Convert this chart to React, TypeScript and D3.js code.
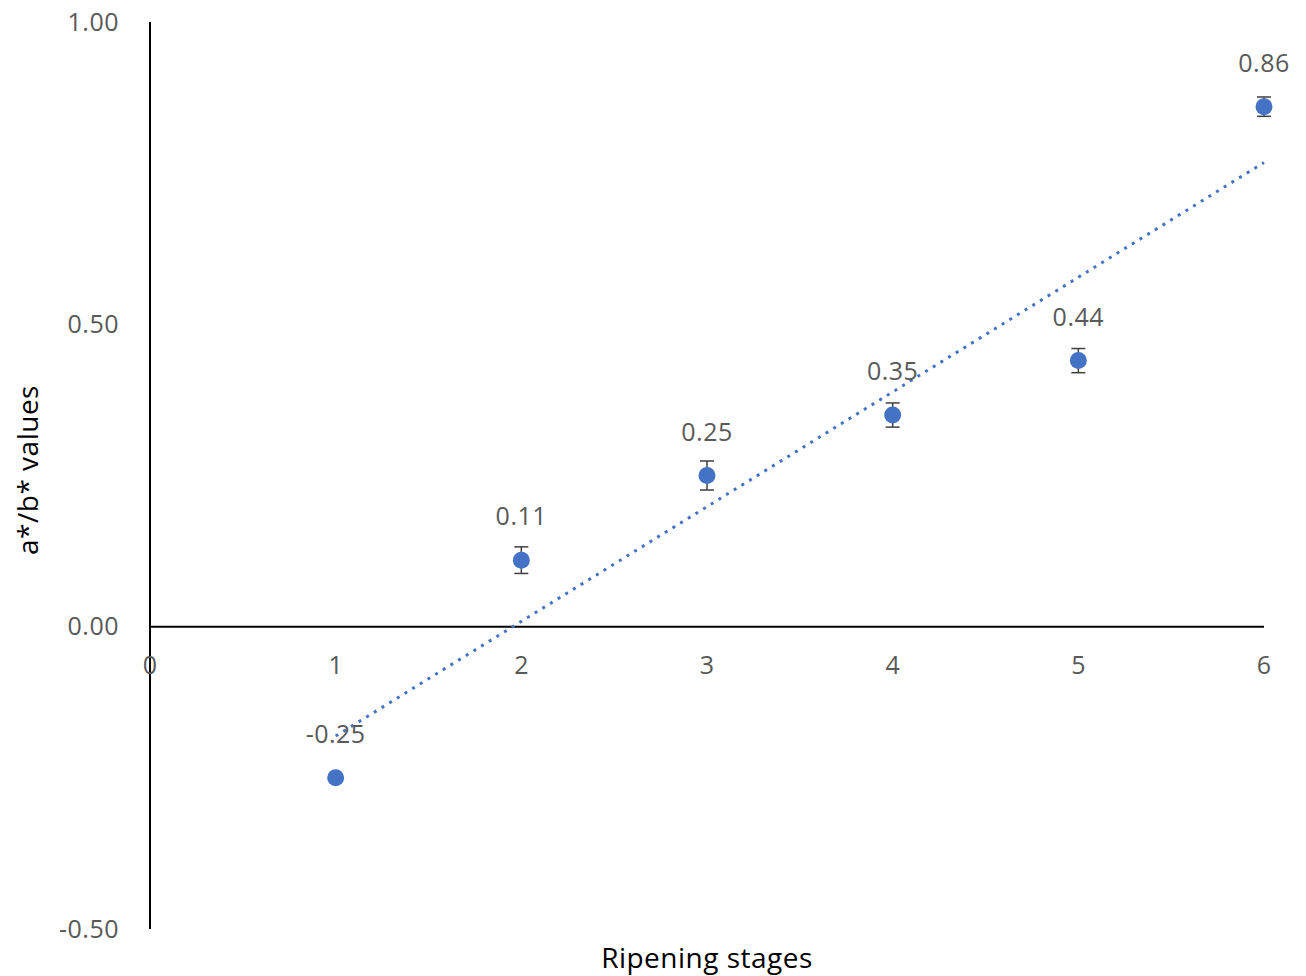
import React from "react";
import * as d3 from "d3";

// ripening stage data
const stages = [1, 2, 3, 4, 5, 6];
const ratios = [-0.25, 0.11, 0.25, 0.35, 0.44, 0.86];
const errors = [0.004, 0.022, 0.024, 0.02, 0.02, 0.016];
const xTicks = [0, 1, 2, 3, 4, 5, 6];
const yTicks = [-0.5, 0, 0.5, 1.0];

const W = 1306;
const H = 976;

const fmt = (v: number) => d3.format(".2f")(v).replace("\u2212", "-");

export default function App() {
  const x = d3.scaleLinear().domain([0, 6]).range([150, 1264]);
  const y = d3.scaleLinear().domain([-0.5, 1.0]).range([929, 22]);

  // linear trendline (least squares)
  const mx = d3.mean(stages) as number;
  const my = d3.mean(ratios) as number;
  const sxy = d3.sum(stages, (s, i) => (s - mx) * (ratios[i] - my));
  const sxx = d3.sum(stages, (s) => (s - mx) * (s - mx));
  const slope = sxy / sxx;
  const icpt = my - slope * mx;
  const trend = d3.line<number>().x((d) => x(d)).y((d) => y(icpt + slope * d));

  const font = "'Open Sans', 'DejaVu Sans', sans-serif";
  const grey = "#595959";
  const blue = "#4472C4";

  return (
    <svg width={W} height={H} style={{ position: "absolute", left: 0, top: 0 }} fontFamily={font}>
      <rect width={W} height={H} fill="#fff" />
      {/* axes */}
      <line x1={x(0)} x2={x(0)} y1={y(1)} y2={y(-0.5)} stroke="#000" strokeWidth={2} />
      <line x1={x(0)} x2={x(6)} y1={y(0)} y2={y(0)} stroke="#000" strokeWidth={2} />

      {yTicks.map((t) => (
        <text key={t} x={119} y={y(t)} dy="0.35em" textAnchor="end" fontSize={25} fill={grey} letterSpacing={0.5}>
          {fmt(t)}
        </text>
      ))}
      {xTicks.map((t) => (
        <text key={t} x={x(t)} y={y(0) + 47} textAnchor="middle" fontSize={25} fill={grey}>
          {t}
        </text>
      ))}

      {/* trendline */}
      <path
        d={trend([1, 6]) as string}
        fill="none"
        stroke={blue}
        strokeWidth={3}
        strokeDasharray="3 6"
      />

      {/* error bars + points */}
      {stages.map((s, i) => (
        <g key={s}>
          <line x1={x(s)} x2={x(s)} y1={y(ratios[i] - errors[i])} y2={y(ratios[i] + errors[i])} stroke="#404040" strokeWidth={1.5} />
          <line x1={x(s) - 7} x2={x(s) + 7} y1={y(ratios[i] - errors[i])} y2={y(ratios[i] - errors[i])} stroke="#404040" strokeWidth={1.5} />
          <line x1={x(s) - 7} x2={x(s) + 7} y1={y(ratios[i] + errors[i])} y2={y(ratios[i] + errors[i])} stroke="#404040" strokeWidth={1.5} />
          <circle cx={x(s)} cy={y(ratios[i])} r={8.5} fill={blue} />
          <text x={x(s)} y={y(ratios[i]) - 35} textAnchor="middle" fontSize={25} fill={grey} letterSpacing={0.5}>
            {fmt(ratios[i])}
          </text>
        </g>
      ))}

      {/* axis titles */}
      <text x={707} y={968} textAnchor="middle" fontSize={28} fill="#000" letterSpacing={0.5}>
        Ripening stages
      </text>
      <text transform={`translate(38, ${470}) rotate(-90)`} textAnchor="middle" fontSize={28} fill="#000" letterSpacing={0.5}>
        a*/b* values
      </text>
    </svg>
  );
}
